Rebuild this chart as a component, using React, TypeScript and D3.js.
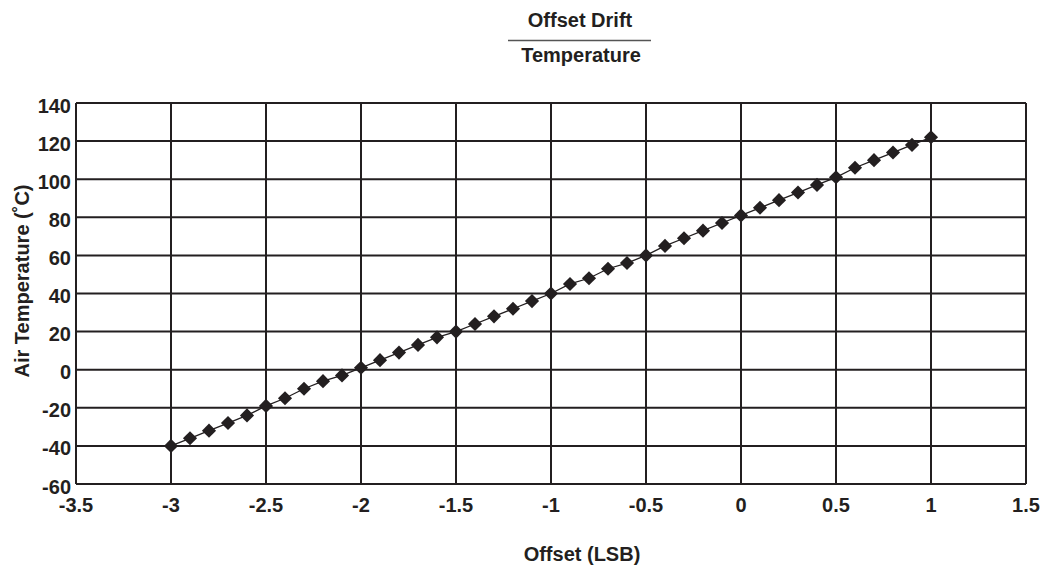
import { useRef, useEffect } from 'react';
import * as d3 from 'd3';

// Offset (LSB) vs air temperature
const offsets = [
  -3.0, -2.9, -2.8, -2.7, -2.6, -2.5, -2.4, -2.3, -2.2, -2.1, -2.0, -1.9, -1.8,
  -1.7, -1.6, -1.5, -1.4, -1.3, -1.2, -1.1, -1.0, -0.9, -0.8, -0.7, -0.6, -0.5,
  -0.4, -0.3, -0.2, -0.1, 0.0, 0.1, 0.2, 0.3, 0.4, 0.5, 0.6, 0.7, 0.8, 0.9, 1.0,
];
const temps = [
  -40, -36, -32, -28, -24, -19, -15, -10, -6, -3, 1, 5, 9, 13, 17, 20, 24, 28,
  32, 36, 40, 45, 48, 53, 56, 60, 65, 69, 73, 77, 81, 85, 89, 93, 97, 101, 106,
  110, 114, 118, 122,
];

const xTicks = [-3.5, -3, -2.5, -2, -1.5, -1, -0.5, 0, 0.5, 1, 1.5];
const yTicks = [-60, -40, -20, 0, 20, 40, 60, 80, 100, 120, 140];

const titleTop = 'Offset Drift';
const titleBottom = 'Temperature';
const xLabel = 'Offset (LSB)';
const yLabel = 'Air Temperature (˚C)';

const WIDTH = 1043;
const HEIGHT = 565;
const INK = '#231f20';
const FONT = '"Liberation Sans", Arial, Helvetica, sans-serif';

export default function App() {
  const svgRef = useRef<SVGSVGElement>(null);

  useEffect(() => {
    if (!svgRef.current) return;
    const svg = d3.select(svgRef.current);
    svg.selectAll('*').remove();

    const margin = { top: 103, right: 17, bottom: 81, left: 76 };
    const x = d3
      .scaleLinear()
      .domain([-3.5, 1.5])
      .range([margin.left, WIDTH - margin.right]);
    const y = d3
      .scaleLinear()
      .domain([-60, 140])
      .range([HEIGHT - margin.bottom, margin.top]);

    const points = offsets.map((o, i) => ({ x: o, y: temps[i] }));

    // grid
    const grid = svg.append('g').attr('stroke', INK).attr('stroke-width', 2);
    grid
      .selectAll('.vgrid')
      .data(xTicks)
      .join('line')
      .attr('x1', (d) => x(d))
      .attr('x2', (d) => x(d))
      .attr('y1', y(-60))
      .attr('y2', y(140));
    grid
      .selectAll('.hgrid')
      .data(yTicks)
      .join('line')
      .attr('x1', x(-3.5))
      .attr('x2', x(1.5))
      .attr('y1', (d) => y(d))
      .attr('y2', (d) => y(d));

    // tick labels
    const labels = svg
      .append('g')
      .attr('font-family', FONT)
      .attr('font-weight', 'bold')
      .attr('font-size', 20)
      .attr('fill', INK);
    labels
      .selectAll('.xt')
      .data(xTicks)
      .join('text')
      .attr('x', (d) => x(d))
      .attr('y', 512)
      .attr('text-anchor', 'middle')
      .text((d) => String(d));
    labels
      .selectAll('.yt')
      .data(yTicks)
      .join('text')
      .attr('x', 71)
      .attr('y', (d) => y(d) + 9.5)
      .attr('text-anchor', 'end')
      .text((d) => String(d));

    // series line + diamonds
    const line = d3
      .line<{ x: number; y: number }>()
      .x((d) => x(d.x))
      .y((d) => y(d.y));
    svg
      .append('path')
      .datum(points)
      .attr('d', line)
      .attr('fill', 'none')
      .attr('stroke', INK)
      .attr('stroke-width', 1.3);

    const diamond = d3.symbol(d3.symbolSquare, 100);
    svg
      .append('g')
      .selectAll('path')
      .data(points)
      .join('path')
      .attr('d', diamond)
      .attr(
        'transform',
        (d) => `translate(${x(d.x)},${y(d.y)}) rotate(45)`
      )
      .attr('fill', INK);

    // titles
    const titles = svg
      .append('g')
      .attr('font-family', FONT)
      .attr('font-weight', 'bold')
      .attr('font-size', 20)
      .attr('fill', INK)
      .attr('text-anchor', 'middle');
    titles.append('text').attr('x', 580).attr('y', 27).text(titleTop);
    svg
      .append('line')
      .attr('x1', 508)
      .attr('x2', 651)
      .attr('y1', 40.5)
      .attr('y2', 40.5)
      .attr('stroke', '#555')
      .attr('stroke-width', 1.5);
    titles.append('text').attr('x', 581).attr('y', 62).text(titleBottom);
    titles.append('text').attr('x', 582).attr('y', 561).text(xLabel);
    titles
      .append('text')
      .attr('transform', 'translate(29,281) rotate(-90)')
      .text(yLabel);
  }, []);

  return (
    <svg
      ref={svgRef}
      width={WIDTH}
      height={HEIGHT}
      viewBox={`0 0 ${WIDTH} ${HEIGHT}`}
      style={{ position: 'absolute', left: 0, top: 0, background: '#fff' }}
      aria-label="Offset drift vs temperature"
    ></svg>
  );
}
